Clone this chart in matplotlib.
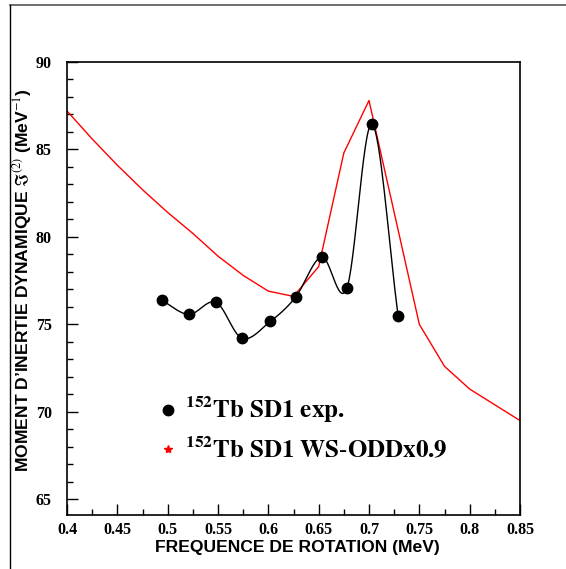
import numpy as np
import matplotlib
matplotlib.use("Agg")
import matplotlib.pyplot as plt
from matplotlib.lines import Line2D
from matplotlib.ticker import MultipleLocator, FormatStrFormatter

# ---- data ----
exp_x = [0.494, 0.521, 0.548, 0.574, 0.602, 0.627, 0.653, 0.678, 0.703, 0.729]
exp_y = [76.38, 75.57, 76.26, 74.20, 75.17, 76.55, 78.85, 77.07, 86.44, 75.46]

ws_x = [0.4, 0.425, 0.45, 0.475, 0.5, 0.525, 0.55, 0.575, 0.6, 0.625,
        0.65, 0.675, 0.7, 0.725, 0.75, 0.775, 0.8, 0.825, 0.85]
ws_y = [87.2, 85.6, 84.1, 82.7, 81.4, 80.2, 78.9, 77.8, 76.9, 76.6,
        78.3, 84.8, 87.8, 81.4, 75.0, 72.6, 71.3, 70.4, 69.5]

xticks = [0.4, 0.45, 0.5, 0.55, 0.6, 0.65, 0.7, 0.75, 0.8, 0.85]
yticks = [65, 70, 75, 80, 85, 90]

legend_labels = [r'$\mathbf{^{152}Tb\ SD1\ exp.}$',
                 r'$\mathbf{^{152}Tb\ SD1\ WS\text{-}ODDx0.9}$']

XLIM = (0.4, 0.85)
YLIM = (64.1, 90)

plt.rcParams['mathtext.fontset'] = 'stix'


def catmull_rom(x, y, n=30):
    # smooth curve through points (uniform Catmull-Rom), in normalized space
    sx = XLIM[1] - XLIM[0]
    sy = YLIM[1] - YLIM[0]
    P = np.column_stack([(np.asarray(x) - XLIM[0]) / sx, (np.asarray(y) - YLIM[0]) / sy])
    P = np.vstack([2 * P[0] - P[1], P, 2 * P[-1] - P[-2]])
    out = []
    t = np.linspace(0, 1, n, endpoint=False)[:, None]
    for i in range(1, len(P) - 2):
        p0, p1, p2, p3 = P[i - 1], P[i], P[i + 1], P[i + 2]
        seg = 0.5 * ((2 * p1) + (-p0 + p2) * t + (2 * p0 - 5 * p1 + 4 * p2 - p3) * t ** 2
                     + (-p0 + 3 * p1 - 3 * p2 + p3) * t ** 3)
        out.append(seg)
    out.append(P[-2][None, :])
    out = np.vstack(out)
    return out[:, 0] * sx + XLIM[0], out[:, 1] * sy + YLIM[0]


fig = plt.figure(figsize=(5.66, 5.69), dpi=100)
ax = fig.add_axes([67 / 566, 1 - 515 / 569, (520 - 67) / 566, (515 - 62) / 569])

ax.plot(ws_x, ws_y, color='red', lw=1.0, zorder=2)
cx, cy = catmull_rom(exp_x, exp_y)
ax.plot(cx, cy, color='black', lw=1.0, zorder=3)
ax.plot(exp_x, exp_y, 'o', color='black', ms=7.5, zorder=4)

ax.set_xlim(*XLIM)
ax.set_ylim(*YLIM)
ax.set_xticks(xticks)
ax.set_yticks(yticks)
ax.xaxis.set_minor_locator(MultipleLocator(0.025))
ax.yaxis.set_minor_locator(MultipleLocator(1))
ax.xaxis.set_major_formatter(FormatStrFormatter('%g'))
ax.tick_params(which='both', direction='in', top=False, right=False)
ax.tick_params(which='major', length=8, width=1)
ax.tick_params(which='minor', length=4, width=1)
for lab in ax.get_xticklabels() + ax.get_yticklabels():
    lab.set_fontfamily('Liberation Serif')
    lab.set_fontweight('bold')
    lab.set_fontsize(11.5)
ax.tick_params(axis='x', pad=5)
ax.tick_params(axis='y', pad=11)
for s in ax.spines.values():
    s.set_linewidth(1.2)

ax.set_xlabel('FREQUENCE DE ROTATION (MeV)', fontfamily='Liberation Sans',
              fontweight='bold', fontsize=12.6)
ax.set_ylabel("MOMENT D\u2019INERTIE DYNAMIQUE $\\Im^{(2)}$ (MeV$^{-1}$)",
              fontfamily='Liberation Sans', fontweight='bold', fontsize=12.6)
ax.xaxis.set_label_coords(0.508, -0.055)
ax.yaxis.set_label_coords(-0.073, 0.519)

# legend
ax.plot([0.5006], [70.1], 'o', color='black', ms=7.5, clip_on=False)
ax.plot([0.5006], [67.87], '*', color='red', ms=6, clip_on=False)
ax.text(0.517, 70.1, legend_labels[0], fontsize=18, va='center', ha='left')
ax.text(0.517, 67.87, legend_labels[1], fontsize=18, va='center', ha='left')

# page frame lines
fig.add_artist(Line2D([10 / 566, 1], [1 - 5 / 569, 1 - 5 / 569], color='#555555', lw=1.2,
                      transform=fig.transFigure))
fig.add_artist(Line2D([10 / 566, 10 / 566], [0, 1 - 5 / 569], color='black', lw=1.0,
                      transform=fig.transFigure))

fig.savefig('out.png', dpi=100)
